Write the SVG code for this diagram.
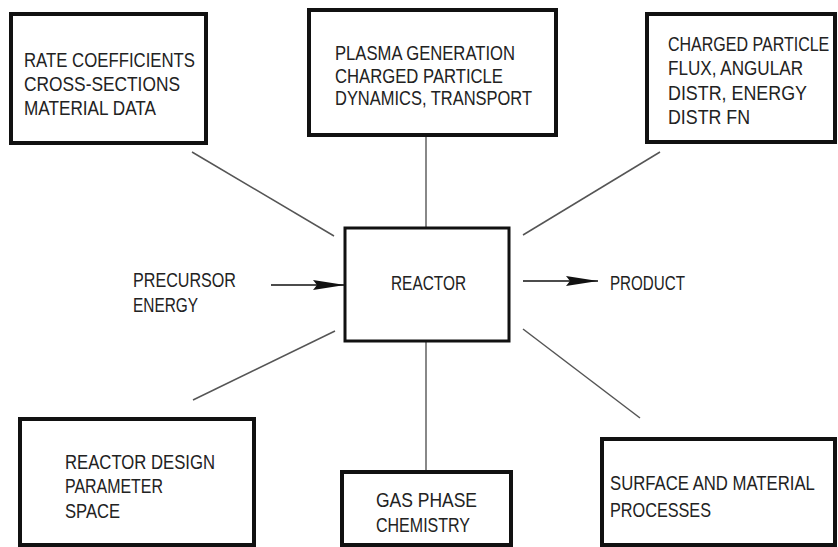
<svg xmlns="http://www.w3.org/2000/svg" width="838" height="547" viewBox="0 0 838 547">
<style>
  .box { fill: #fff; stroke: #111; stroke-width: 4; }
  .rbox { fill: #fff; stroke: #111; stroke-width: 3; }
  .t { font-family: "Liberation Sans", Arial, sans-serif; font-size: 21px; fill: #222; }
  .conn { stroke: #555; stroke-width: 1.5; fill: none; }
  .vconn { stroke: #888; stroke-width: 2; fill: none; }
  .arr { stroke: #111; stroke-width: 1.5; fill: none; }
</style>
<defs>
  <marker id="ah" markerUnits="userSpaceOnUse" markerWidth="34" markerHeight="12" refX="32" refY="6" orient="auto">
    <path d="M0,1 L32,6 L0,11 L4,6 z" fill="#111"/>
  </marker>
</defs>
<rect width="838" height="547" fill="#fff"/>
<g id="connectors">
  <line class="vconn" x1="426" y1="135" x2="426" y2="228"/>
  <line class="vconn" x1="426" y1="341" x2="426" y2="472"/>
  <line class="conn" x1="192" y1="152" x2="334" y2="236"/>
  <line class="conn" x1="660" y1="152" x2="523" y2="235"/>
  <line class="conn" x1="335" y1="331" x2="193" y2="400"/>
  <line class="conn" x1="523" y1="329" x2="640" y2="418"/>
  <line class="arr" x1="271" y1="285" x2="345" y2="285" marker-end="url(#ah)"/>
  <line class="arr" x1="523" y1="281" x2="598" y2="281" marker-end="url(#ah)"/>
</g>
<g id="rate">
  <rect class="box" x="11" y="14" width="195" height="129"/>
  <text class="t" x="24" y="67" textLength="171" lengthAdjust="spacingAndGlyphs">RATE COEFFICIENTS</text>
  <text class="t" x="24" y="91" textLength="156" lengthAdjust="spacingAndGlyphs">CROSS-SECTIONS</text>
  <text class="t" x="24" y="115" textLength="132" lengthAdjust="spacingAndGlyphs">MATERIAL DATA</text>
</g>
<g id="plasma">
  <rect class="box" x="309" y="10" width="247" height="125"/>
  <text class="t" x="335" y="60" textLength="180" lengthAdjust="spacingAndGlyphs">PLASMA GENERATION</text>
  <text class="t" x="335" y="83" textLength="168" lengthAdjust="spacingAndGlyphs">CHARGED PARTICLE</text>
  <text class="t" x="335" y="105" textLength="197" lengthAdjust="spacingAndGlyphs">DYNAMICS, TRANSPORT</text>
</g>
<g id="flux">
  <rect class="box" x="647" y="14" width="188" height="128"/>
  <text class="t" transform="translate(668,51) scale(0.763,1)" x="0" y="0">CHARGED PARTICLE</text>
  <text class="t" x="668" y="75" textLength="135" lengthAdjust="spacingAndGlyphs">FLUX, ANGULAR</text>
  <text class="t" x="668" y="100" textLength="139" lengthAdjust="spacingAndGlyphs">DISTR, ENERGY</text>
  <text class="t" x="668" y="124" textLength="82" lengthAdjust="spacingAndGlyphs">DISTR FN</text>
</g>
<g id="reactor">
  <rect class="rbox" x="345" y="228" width="164" height="113"/>
  <text class="t" x="391" y="290" textLength="75" lengthAdjust="spacingAndGlyphs">REACTOR</text>
</g>
<g id="precursor">
  <text class="t" x="133" y="287" textLength="103" lengthAdjust="spacingAndGlyphs">PRECURSOR</text>
  <text class="t" x="133" y="312" textLength="65" lengthAdjust="spacingAndGlyphs">ENERGY</text>
</g>
<g id="product">
  <text class="t" x="610" y="290" textLength="75" lengthAdjust="spacingAndGlyphs">PRODUCT</text>
</g>
<g id="design">
  <rect class="box" x="20" y="419" width="234" height="126"/>
  <text class="t" x="65" y="469" textLength="150" lengthAdjust="spacingAndGlyphs">REACTOR DESIGN</text>
  <text class="t" x="65" y="493" textLength="98" lengthAdjust="spacingAndGlyphs">PARAMETER</text>
  <text class="t" x="65" y="518" textLength="55" lengthAdjust="spacingAndGlyphs">SPACE</text>
</g>
<g id="gas">
  <rect class="box" x="342" y="472" width="169" height="73"/>
  <text class="t" x="376" y="507" textLength="101" lengthAdjust="spacingAndGlyphs">GAS PHASE</text>
  <text class="t" x="376" y="532" textLength="94" lengthAdjust="spacingAndGlyphs">CHEMISTRY</text>
</g>
<g id="surface">
  <rect class="box" x="602" y="439" width="233" height="106"/>
  <text class="t" transform="translate(610,490) scale(0.796,1)" x="0" y="0">SURFACE AND MATERIAL</text>
  <text class="t" x="610" y="517" textLength="101" lengthAdjust="spacingAndGlyphs">PROCESSES</text>
</g>
</svg>
